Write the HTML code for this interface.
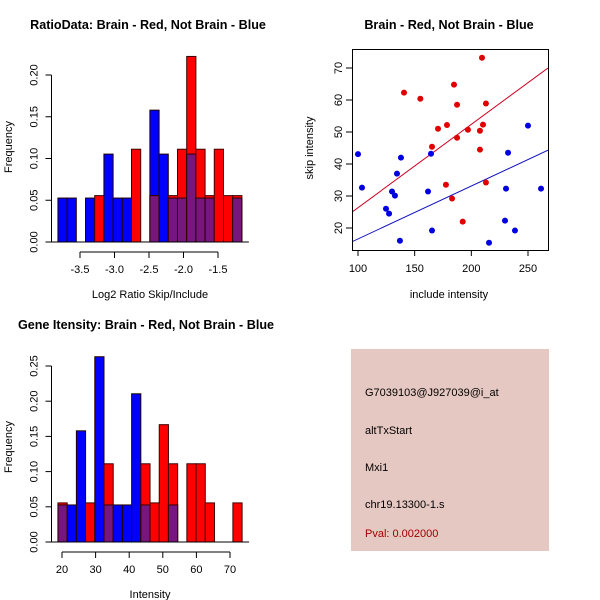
<!DOCTYPE html>
<html><head><meta charset="utf-8"><style>
body{margin:0;background:#fff}
svg{display:block;font-family:"Liberation Sans",sans-serif}
</style></head><body>
<svg id="s" width="600" height="600" viewBox="0 0 600 600">
<rect width="600" height="600" fill="#fff"/>
<text x="148" y="29" font-size="12.6" font-weight="bold" text-anchor="middle">RatioData: Brain - Red, Not Brain - Blue</text>
<text x="449" y="29" font-size="12.6" font-weight="bold" text-anchor="middle">Brain - Red, Not Brain - Blue</text>
<text x="146" y="329" font-size="12.6" font-weight="bold" text-anchor="middle">Gene Itensity: Brain - Red, Not Brain - Blue</text>
<g>
<rect x="351" y="349" width="198" height="202" fill="#e6c8c2"/>
<text x="365" y="396" font-size="11">G7039103@J927039@i_at</text>
<text x="365" y="434" font-size="11">altTxStart</text>
<text x="365" y="471" font-size="11">Mxi1</text>
<text x="365" y="508" font-size="11">chr19.13300-1.s</text>
<text x="365" y="537" font-size="11" fill="#a00000">Pval: 0.002000</text>
</g>
<g id="g1"></g>
<g id="g2"></g>
<g id="g3"></g>
</svg>
<script>
const NS="http://www.w3.org/2000/svg";
const B=1/19, R=1/18;
// Ratio histogram
const ratioBinStart=-3.82, ratioBinWidth=0.1333;
const ratioBlue=[B,B,0,B,0,2*B,B,B,0,0,3*B,2*B,B,B,2*B,B,B,0,0,B];
const ratioRed=[0,0,0,0,R,0,0,0,2*R,0,R,0,R,2*R,4*R,2*R,R,2*R,R,R];
const ratioXTicks=[-3.5,-3.0,-2.5,-2.0,-1.5];
const ratioYTicks=[0,0.05,0.10,0.15,0.20];
// Intensity histogram
const intBinStart=18.8, intBinWidth=2.74;
const intBlue=[B,B,3*B,0,5*B,B,B,B,4*B,B,0,0,B,0,0,0,0,0,0,0];
const intRed=[R,0,0,R,0,2*R,0,0,0,2*R,R,3*R,2*R,0,2*R,2*R,R,0,0,R];
const intXTicks=[20,30,40,50,60,70];
const intYTicks=[0,0.05,0.10,0.15,0.20,0.25];
// Scatter
const redX=[140.6,155,170.6,178.5,184.7,187.4,187.4,197,165.3,177.6,183,192.4,209.4,212.9,210.3,207.6,207.6,212.9];
const redY=[62.3,60.4,51.0,52.2,64.8,58.5,48.2,50.7,45.4,33.5,29.2,22.0,73.2,58.9,52.3,50.4,44.5,34.2];
const blueX=[100,103.5,124.7,127.4,130,132.6,134.4,137.9,137,164.4,161.8,165.3,215.6,238.5,230.6,232.4,229.7,250,261.5];
const blueY=[43.1,32.6,26.0,24.5,31.4,30.1,37,42,16,43.2,31.4,19.2,15.4,19.2,32.3,43.5,22.3,52,32.3];
const redFit=[94.1,24.8,267.6,70.0];
const blueFit=[94.1,15.6,267.6,44.3];
const scXTicks=[100,150,200,250];
const scYTicks=[20,30,40,50,60,70];

function el(p,t,a){const e=document.createElementNS(NS,t);for(const k in a)e.setAttribute(k,a[k]);p.appendChild(e);return e;}
function fmt(v,d){return v.toFixed(d);}

function hist(g,start,w,blue,red,xs,ys,yt,xtk,ytk,xlab,dec,ycx){
  const n=blue.length;
  const x0=xs(start), x1=xs(start+n*w);
  for(let i=0;i<n;i++){
    const a=xs(start+i*w), b=xs(start+(i+1)*w);
    const bl=blue[i], rd=red[i], m=Math.min(bl,rd);
    const top=Math.max(bl,rd);
    if(top<=0) continue;
    if(bl>0){const r=el(g,'rect',{x:a,y:ys(bl),width:b-a,height:ys(0)-ys(bl),fill:'#0000ff',stroke:'#200000','stroke-width':1});
      
      }
    if(rd>0){const r=el(g,'rect',{x:a,y:ys(rd),width:b-a,height:ys(0)-ys(rd),fill:rd>=bl?'#ff0000':'none',stroke:'#400000','stroke-width':1});
      
      }
    if(m>0){const r=el(g,'rect',{x:a,y:ys(m),width:b-a,height:ys(0)-ys(m),fill:'#76167e',stroke:'#300000','stroke-width':1});
      
      }
  }
  el(g,'line',{x1:x0-7,x2:x1+7,y1:ys(0),y2:ys(0),stroke:'#000'});
  const ya=51.5;
  el(g,'line',{x1:ya,x2:ya,y1:ys(0),y2:ys(ytk[ytk.length-1]),stroke:'#000'});
  ytk.forEach(v=>{el(g,'line',{x1:ya-6,x2:ya,y1:ys(v),y2:ys(v),stroke:'#000'});
    const t=el(g,'text',{x:ya-14,y:ys(v),'font-size':11,'text-anchor':'middle',transform:`rotate(-90 ${ya-14} ${ys(v)})`});t.textContent=fmt(v,2);
    
    });
  const xa=yt+10;
  el(g,'line',{x1:xs(xtk[0]),x2:xs(xtk[xtk.length-1]),y1:xa,y2:xa,stroke:'#000'});
  xtk.forEach(v=>{el(g,'line',{x1:xs(v),x2:xs(v),y1:xa,y2:xa+6,stroke:'#000'});
    const t=el(g,'text',{x:xs(v),y:xa+21,'font-size':11,'text-anchor':'middle'});t.textContent=fmt(v,dec);
    
    });
  const xl=el(g,'text',{x:150,y:xa+46,'font-size':11,'text-anchor':'middle'});xl.textContent=xlab;
  
  
  const yl=el(g,'text',{x:12,y:ycx,'font-size':11,'text-anchor':'middle',transform:`rotate(-90 12 ${ycx})`});yl.textContent='Frequency';
  
  
}
hist(document.getElementById('g1'),ratioBinStart,ratioBinWidth,ratioBlue,ratioRed,
  v=>80+(v+3.5)*69, v=>242-v*835, 242, ratioXTicks, ratioYTicks,'Log2 Ratio Skip/Include',1,147);
hist(document.getElementById('g3'),intBinStart,intBinWidth,intBlue,intRed,
  v=>62+(v-20)*3.36, v=>542-v*704, 542, intXTicks, intYTicks,'Intensity',0,447);

(function(){
  const g=document.getElementById('g2');
  const xs=v=>358+(v-100)*1.1333, ys=v=>228-(v-20)*3.2;
  const L=352,Rr=548,T=49,Bt=250;
  el(g,'defs',{}).innerHTML='<clipPath id="cp"><rect x="352" y="49" width="196" height="201"/></clipPath>';
  const lr=el(g,'line',{x1:xs(redFit[0]),y1:ys(redFit[1]),x2:xs(redFit[2]),y2:ys(redFit[3]),stroke:'#d00020','clip-path':'url(#cp)'});
  
  
  const lb=el(g,'line',{x1:xs(blueFit[0]),y1:ys(blueFit[1]),x2:xs(blueFit[2]),y2:ys(blueFit[3]),stroke:'#1010c0','clip-path':'url(#cp)'});
  
  
  redX.forEach((v,i)=>{const c=el(g,'circle',{cx:xs(v),cy:ys(redY[i]),r:3,fill:'#e00000'});
    
    });
  blueX.forEach((v,i)=>{const c=el(g,'circle',{cx:xs(v),cy:ys(blueY[i]),r:3,fill:'#0000e0'});
    
    });
  el(g,'rect',{x:L+0.5,y:T+0.5,width:Rr-L,height:Bt-T,fill:'none',stroke:'#000'});
  scXTicks.forEach(v=>{el(g,'line',{x1:xs(v),x2:xs(v),y1:Bt,y2:Bt+6,stroke:'#000'});
    const t=el(g,'text',{x:xs(v),y:Bt+22,'font-size':11,'text-anchor':'middle'});t.textContent=v;
    
    });
  scYTicks.forEach(v=>{el(g,'line',{x1:L-6,x2:L,y1:ys(v),y2:ys(v),stroke:'#000'});
    const t=el(g,'text',{x:L-10,y:ys(v),'font-size':11,'text-anchor':'middle',transform:`rotate(-90 ${L-10} ${ys(v)})`});t.textContent=v;
    
    });
  const xl=el(g,'text',{x:449,y:298,'font-size':11,'text-anchor':'middle'});xl.textContent='include intensity';
  
  
  const yl=el(g,'text',{x:313,y:148,'font-size':11,'text-anchor':'middle',transform:'rotate(-90 313 148)'});yl.textContent='skip intensity';
  
  
})();
</script>
</body></html>
